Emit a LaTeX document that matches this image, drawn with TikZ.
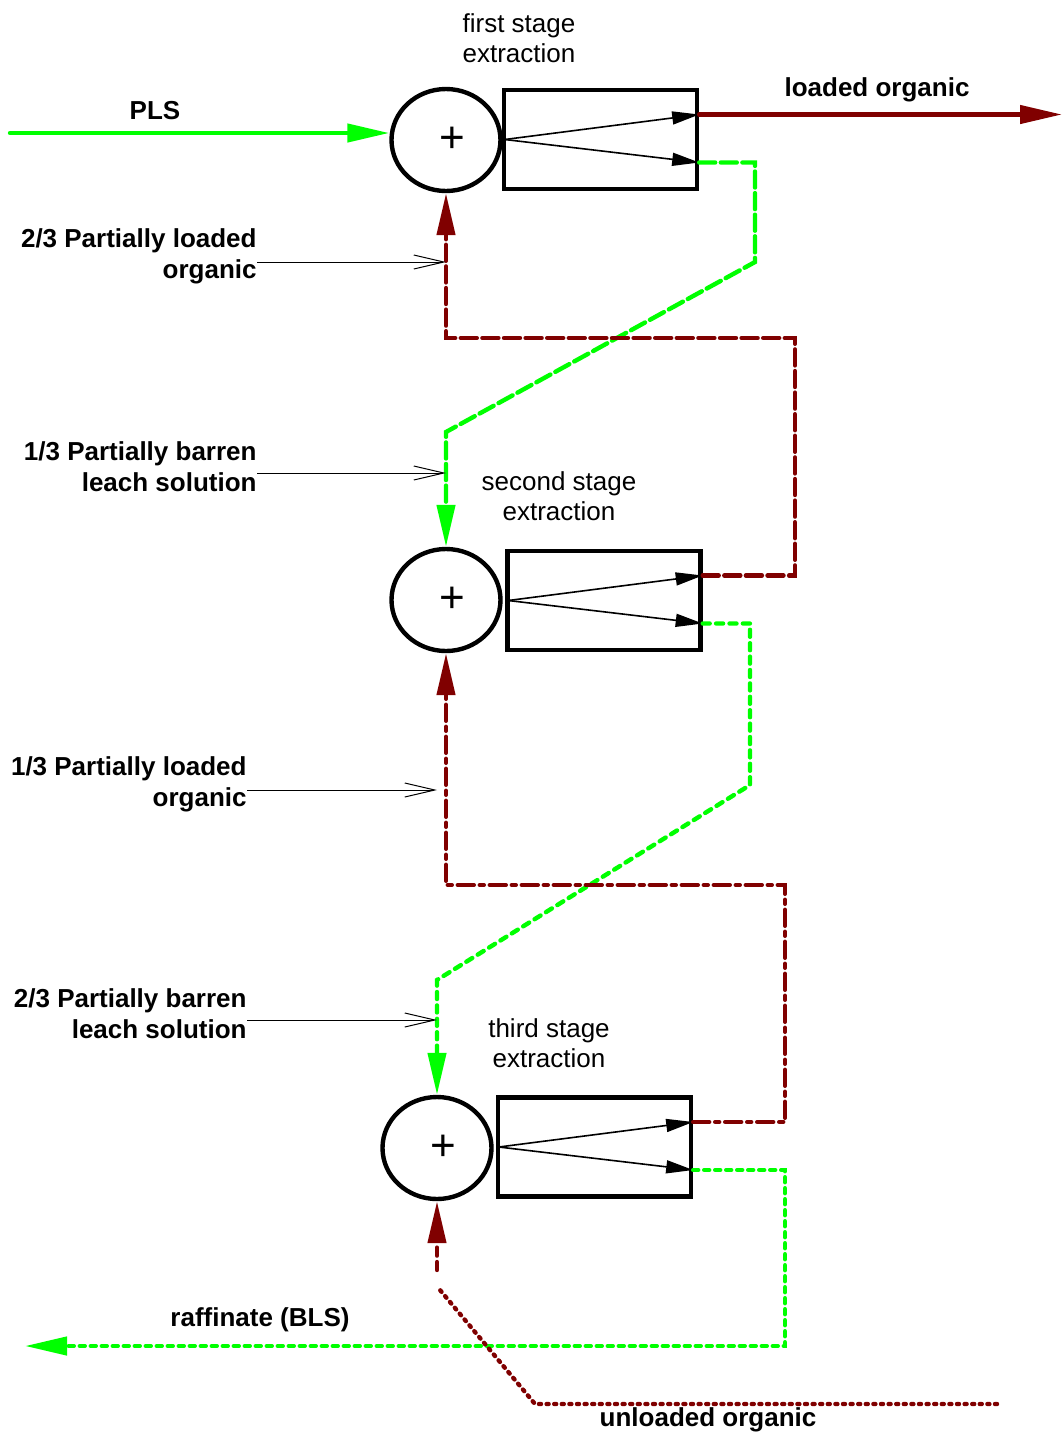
\documentclass[tikz,border=0pt]{standalone}
\usepackage{fontspec}
\setmainfont{Liberation Sans}
\usetikzlibrary{arrows.meta,shapes.geometric,calc}
\definecolor{orgred}{HTML}{800000}
\definecolor{aqgreen}{HTML}{00FF00}
\tikzset{
  mixer/.style={ellipse,draw,line width=2.2pt,minimum width=54.5pt,minimum height=51pt,inner sep=0pt,font=\fontsize{22}{22}\selectfont},
  settler/.style={rectangle,draw,line width=2.2pt,minimum width=96.5pt,minimum height=49.5pt,inner sep=0pt},
  split/.style={line width=0.8pt,-{Triangle[length=13.5pt,width=6.5pt]}},
  organic/.style={draw=orgred,line width=2.2pt,line cap=round,dash pattern=#1},
  organic/.default={on 8pt off 2.8pt},
  aqueous/.style={draw=aqgreen,line width=2.2pt,line cap=round,dash pattern=#1},
  aqueous/.default={on 8pt off 2.8pt},
  flowtip/.style={-{Triangle[length=21pt,width=9pt]}},
  pointer/.style={line width=0.5pt,-{Straight Barb[length=15pt,width=7pt]}},
  stream/.style={font=\fontsize{13}{15.5}\selectfont\bfseries,inner sep=0pt},
  stage/.style={font=\fontsize{13}{15}\selectfont,align=center,inner sep=0pt},
}
\begin{document}
\begin{tikzpicture}[x=0.5pt,y=-0.5pt]
\useasboundingbox (0,0) rectangle (1062,1437);
\node[mixer] (mix1) at (446,140) {\hspace*{6pt}+};
\node[settler] (settler1) at (600.5,139.5) {};
\node[mixer] (mix2) at (446,600) {\hspace*{6pt}+};
\node[settler] (settler2) at (604,600.5) {};
\node[mixer] (mix3) at (437,1148) {\hspace*{6pt}+};
\node[settler] (settler3) at (594.5,1147) {};
\foreach \i in {1,2,3}{
  \coordinate (org\i) at ($(settler\i.east)+(0,-25)$);
  \coordinate (aq\i) at ($(settler\i.east)+(0,23)$);
  \draw[split] ($(settler\i.west)+(3,0)$) -- (org\i);
  \draw[split] ($(settler\i.west)+(3,0)$) -- (aq\i);
}
\node[stage] (title1) at (519,38) {first stage\\extraction};
\node[stage] (title2) at (559,496) {second stage\\extraction};
\node[stage] (title3) at (549,1043) {third stage\\extraction};
\coordinate (plsin) at (10,133);
\coordinate (loadout) at (1062,114);
\coordinate (raffout) at (25,1346);
\coordinate (unlin) at (997,1404);
\coordinate (orgbreak) at (437,1270);
\draw[aqueous,solid,flowtip] (plsin) -- (plsin -| mix1.west);
\draw[organic,solid,flowtip] (org1) -- (org1 -| loadout);
\draw[aqueous={on 8pt off 2.8pt},flowtip] (aq1) -| (755,262) -- (446,432) -- (mix2.north);
\draw[organic,flowtip] (org2) -| (795,338) -| (mix1.south);
\draw[aqueous={on 3.5pt off 3.2pt},flowtip] (aq2) -| (750,785) -- (437,980) -- (mix3.north);
\draw[organic={on 8pt off 3pt on 2pt off 3pt},flowtip] (org3) -| (785,885) -| (mix2.south);
\draw[aqueous={on 2.5pt off 3pt},flowtip] (aq3) -| (785,1346) -- (raffout);
\draw[organic={on 1pt off 2.8pt}] (unlin) -- (535,1404) -- (440,1290);
\draw[organic={on 4pt off 3.2pt},flowtip] (orgbreak) -- (mix3.south);
\node[stream] (plslbl) at (155,111) {PLS};
\node[stream] (loadlbl) at (877,90) {loaded organic};
\node[stream] (rafflbl) at (260,1320) {raffinate (BLS)};
\node[stream] (unloadlbl) at (708,1420) {unloaded organic};
\node[stream,align=right,anchor=east] (note1) at (257,256) {2/3 Partially loaded\\organic};
\node[stream,align=right,anchor=east] (note2) at (257,467) {1/3 Partially barren\\leach solution};
\node[stream,align=right,anchor=east] (note3) at (247,784) {1/3 Partially loaded\\organic};
\node[stream,align=right,anchor=east] (note4) at (247,1014) {2/3 Partially barren\\leach solution};
\draw[pointer] (note1.east) ++(0,6) coordinate (p1) -- (p1 -| mix1.south);
\draw[pointer] (note2.east) ++(0,6) coordinate (p2) -- (p2 -| mix2.north);
\draw[pointer] (note3.east) ++(0,6) coordinate (p3) -- (p3 -| mix3.north);
\draw[pointer] (note4.east) ++(0,6) coordinate (p4) -- (p4 -| mix3.north);
\end{tikzpicture}
\end{document}
